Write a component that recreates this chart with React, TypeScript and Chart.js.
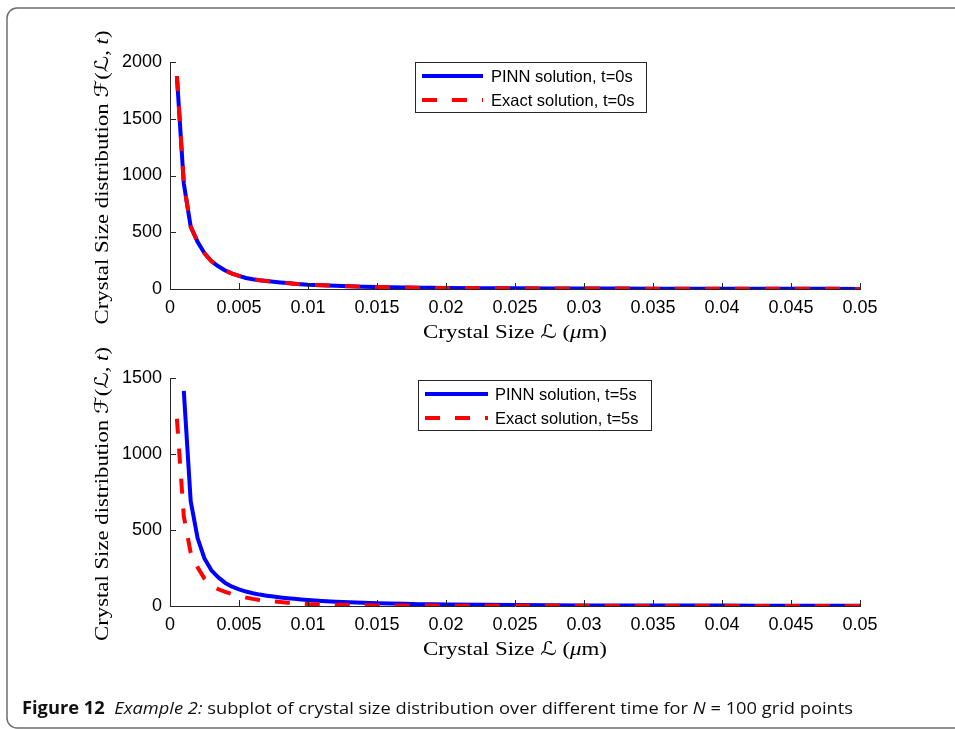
import React, { useEffect, useRef } from 'react';
import { Chart, registerables } from 'chart.js';

Chart.register(...registerables);

// ---------- data ----------
const xTicks = [0, 0.005, 0.01, 0.015, 0.02, 0.025, 0.03, 0.035, 0.04, 0.045, 0.05];
const xTickLabels = ['0', '0.005', '0.01', '0.015', '0.02', '0.025', '0.03', '0.035', '0.04', '0.045', '0.05'];
const yTicksTop = [0, 500, 1000, 1500, 2000];
const yTickLabelsTop = ['0', '500', '1000', '1500', '2000'];
const yTicksBottom = [0, 500, 1000, 1500];
const yTickLabelsBottom = ['0', '500', '1000', '1500'];

// crystal size grid (µm) used by the exact solutions and the t=0 PINN solution
const sizeGrid = [
  0.0005, 0.001, 0.0015, 0.002, 0.0025, 0.003, 0.0035, 0.004, 0.0045, 0.005,
  0.0055, 0.006, 0.0065, 0.007, 0.0075, 0.008, 0.0085, 0.009, 0.0095, 0.01,
  0.011, 0.012, 0.013, 0.014, 0.015, 0.016, 0.017, 0.018, 0.019, 0.02,
  0.0225, 0.025, 0.0275, 0.03, 0.0325, 0.035, 0.0375, 0.04, 0.0425, 0.045, 0.0475, 0.05,
];
// grid of the t=5s PINN solution (starts one step later)
const sizeGridPinnT5 = [
  0.001, 0.0015, 0.002, 0.0025, 0.003, 0.0035, 0.004, 0.0045, 0.005,
  0.0055, 0.006, 0.0065, 0.007, 0.0075, 0.008, 0.0085, 0.009, 0.0095, 0.01,
  0.011, 0.012, 0.013, 0.014, 0.015, 0.016, 0.017, 0.018, 0.019, 0.02,
  0.0225, 0.025, 0.0275, 0.03, 0.0325, 0.035, 0.0375, 0.04, 0.0425, 0.045, 0.0475, 0.05,
];

const pinnT0 = [
  1875, 930, 550, 415, 315, 245, 200, 163, 135, 115,
  97, 86, 77, 70, 64, 58, 52, 47, 42, 38,
  33, 28, 24, 20, 17, 15, 13, 12, 10, 9,
  7, 6, 5, 4, 3.5, 3, 2.5, 2, 2, 1.5, 1.5, 1,
];
const exactT0 = [
  1875, 930, 550, 415, 315, 245, 200, 163, 135, 115,
  97, 86, 77, 70, 64, 58, 52, 47, 42, 38,
  33, 28, 24, 20, 17, 15, 13, 12, 10, 9,
  7, 6, 5, 4, 3.5, 3, 2.5, 2, 2, 1.5, 1.5, 1,
];
const pinnT5 = [
  1415, 690, 447, 312, 235, 188, 152, 127, 109,
  95, 84, 75, 68, 62, 56, 51, 47, 43, 39,
  33, 28, 24, 21, 18, 16, 14, 12, 11, 10,
  8, 6, 5, 4, 3.5, 3, 2.5, 2.5, 2, 2, 2, 2,
];
const exactT5 = [
  1232, 590, 350, 255, 180, 135, 110, 93, 79, 67,
  56, 47, 40, 34, 30, 26, 22, 19, 16, 13,
  10, 8, 7, 5, 4, 3.5, 3, 3, 2.5, 2,
  1.5, 1, 1, 1, 0.5, 0.5, 0.5, 0.5, 0.3, 0.3, 0.3, 0.3,
];

const legendTop = ['PINN solution, t=0s', 'Exact solution, t=0s'];
const legendBottom = ['PINN solution, t=5s', 'Exact solution, t=5s'];

// ---------- helpers ----------
type Run = { t: string; style?: string; weight?: string; family?: string };

const SERIF = '"Liberation Serif", "DejaVu Serif", serif';
const MATHF = '"DejaVu Serif", "DejaVu Sans", serif';
const SANS = '"Liberation Sans", Arial, sans-serif';

function fontOf(r: Run, size: number, fam: string) {
  return `${r.style || 'normal'} ${r.weight || 'normal'} ${size}px ${r.family || fam}`;
}

function drawRuns(
  ctx: CanvasRenderingContext2D,
  runs: Run[],
  size: number,
  fam: string,
  x: number,
  y: number,
  targetLen: number,
  opts: { rotate?: boolean; align?: 'center' | 'left'; baseline?: CanvasTextBaseline; color?: string }
) {
  ctx.save();
  ctx.translate(x, y);
  if (opts.rotate) ctx.rotate(-Math.PI / 2);
  const widths = runs.map((r) => {
    ctx.font = fontOf(r, size, fam);
    return ctx.measureText(r.t).width;
  });
  const total = widths.reduce((a, b) => a + b, 0);
  const s = targetLen / total;
  ctx.scale(s, 1);
  ctx.fillStyle = opts.color || '#000';
  ctx.textBaseline = opts.baseline || 'middle';
  ctx.textAlign = 'left';
  let cx = opts.align === 'left' ? 0 : -total / 2;
  runs.forEach((r, i) => {
    ctx.font = fontOf(r, size, fam);
    ctx.fillText(r.t, cx, 0);
    cx += widths[i];
  });
  ctx.restore();
}

const yTitleRuns: Run[] = [
  { t: 'Crystal Size distribution ' },
  { t: 'ℱ', family: MATHF },
  { t: '(' },
  { t: 'ℒ', family: MATHF },
  { t: ', ' },
  { t: 't', style: 'italic' },
  { t: ')' },
];
const xTitleRuns: Run[] = [
  { t: 'Crystal Size ' },
  { t: 'ℒ', family: MATHF },
  { t: ' (' },
  { t: 'μ', style: 'italic' },
  { t: 'm)' },
];

interface PanelCfg {
  sizesPinn: number[];
  pinn: number[];
  sizesExact: number[];
  exact: number[];
  yMax: number;
  yTicks: number[];
  yTickLabels: string[];
  legend: string[];
  padTop: number;
  xAxisH: number;
  xTitleY: number;
  legendBox: { x: number; y: number; w: number; h: number; lineX0: number; lineX1: number; textX: number };
}

function makeConfig(p: PanelCfg): any {
  const decor = {
    id: 'decor',
    afterDraw(chart: any) {
      const ctx: CanvasRenderingContext2D = chart.ctx;
      const area = chart.chartArea;
      const xs = chart.scales.x;
      const ys = chart.scales.y;
      // inward ticks
      ctx.save();
      ctx.strokeStyle = '#262626';
      ctx.lineWidth = 1;
      ctx.beginPath();
      xTicks.forEach((v) => {
        const px = Math.round(xs.getPixelForValue(v)) + 0.5;
        ctx.moveTo(px, area.bottom);
        ctx.lineTo(px, area.bottom - 6);
      });
      p.yTicks.forEach((v) => {
        const py = Math.round(ys.getPixelForValue(v)) + 0.5;
        ctx.moveTo(area.left, py);
        ctx.lineTo(area.left + 6, py);
      });
      ctx.stroke();
      ctx.restore();

      // axis titles
      drawRuns(ctx, yTitleRuns, 19, SERIF, 103, (area.top + area.bottom) / 2 + 2, 294, { rotate: true });
      drawRuns(ctx, xTitleRuns, 19, SERIF, (area.left + area.right) / 2, p.xTitleY, 184, {});

      // legend
      const b = p.legendBox;
      ctx.save();
      ctx.fillStyle = '#fff';
      ctx.fillRect(b.x, b.y, b.w, b.h);
      ctx.strokeStyle = '#262626';
      ctx.lineWidth = 1;
      ctx.strokeRect(b.x + 0.5, b.y + 0.5, b.w, b.h);
      const rows = [b.y + 14, b.y + 38];
      ctx.lineWidth = 4;
      ctx.strokeStyle = '#0000ff';
      ctx.setLineDash([]);
      ctx.beginPath();
      ctx.moveTo(b.lineX0, rows[0]);
      ctx.lineTo(b.lineX1, rows[0]);
      ctx.stroke();
      ctx.strokeStyle = '#ff0000';
      ctx.setLineDash([15, 15]);
      ctx.beginPath();
      ctx.moveTo(b.lineX0, rows[1]);
      ctx.lineTo(b.lineX1, rows[1]);
      ctx.stroke();
      ctx.setLineDash([]);
      ctx.fillStyle = '#000';
      ctx.font = `16.5px ${SANS}`;
      ctx.textBaseline = 'middle';
      ctx.textAlign = 'left';
      ctx.fillText(p.legend[0], b.textX, rows[0] + 1);
      ctx.fillText(p.legend[1], b.textX, rows[1] + 1);
      ctx.restore();
    },
  };

  return {
    type: 'scatter',
    data: {
      datasets: [
        {
          label: p.legend[0],
          data: p.sizesPinn.map((x, i) => ({ x, y: p.pinn[i] })),
          showLine: true,
          borderColor: '#0000ff',
          backgroundColor: '#0000ff',
          borderWidth: 4,
          pointRadius: 0,
          pointHoverRadius: 0,
          tension: 0,
          borderJoinStyle: 'round',
          order: 2,
        },
        {
          label: p.legend[1],
          data: p.sizesExact.map((x, i) => ({ x, y: p.exact[i] })),
          showLine: true,
          borderColor: '#ff0000',
          backgroundColor: '#ff0000',
          borderWidth: 4,
          borderDash: [15, 15],
          pointRadius: 0,
          pointHoverRadius: 0,
          tension: 0,
          order: 1,
        },
      ],
    },
    options: {
      animation: false,
      responsive: false,
      devicePixelRatio: 1,
      events: [],
      layout: { padding: { top: p.padTop, right: 95, left: 0, bottom: 0 } },
      plugins: { legend: { display: false }, tooltip: { enabled: false }, title: { display: false } },
      scales: {
        x: {
          type: 'linear',
          min: 0,
          max: 0.05,
          afterBuildTicks: (s: any) => {
            s.ticks = xTicks.map((v) => ({ value: v }));
          },
          afterFit: (s: any) => {
            s.height = p.xAxisH;
          },
          grid: { display: false, drawTicks: false },
          border: { display: true, color: '#262626', width: 1 },
          ticks: {
            autoSkip: false,
            maxRotation: 0,
            padding: 8,
            color: '#000',
            font: { family: SANS, size: 18 },
            callback: (_v: any, i: number) => xTickLabels[i],
          },
        },
        y: {
          type: 'linear',
          min: 0,
          max: p.yMax,
          afterBuildTicks: (s: any) => {
            s.ticks = p.yTicks.map((v) => ({ value: v }));
          },
          afterFit: (s: any) => {
            s.width = 170;
          },
          grid: { display: false, drawTicks: false },
          border: { display: true, color: '#262626', width: 1 },
          ticks: {
            autoSkip: false,
            padding: 8,
            color: '#000',
            font: { family: SANS, size: 18 },
            callback: (_v: any, i: number) => p.yTickLabels[i],
          },
        },
      },
    },
    plugins: [decor],
  };
}

function drawFrame(canvas: HTMLCanvasElement) {
  const ctx = canvas.getContext('2d')!;
  ctx.clearRect(0, 0, canvas.width, canvas.height);
  ctx.fillStyle = '#fff';
  ctx.fillRect(0, 0, canvas.width, canvas.height);
  // rounded frame
  const x = 7, y = 8, w = 1000, h = 720, r = 10;
  ctx.strokeStyle = '#6e6e6e';
  ctx.lineWidth = 1.5;
  ctx.beginPath();
  ctx.moveTo(x + r, y);
  ctx.lineTo(x + w - r, y);
  ctx.arcTo(x + w, y, x + w, y + r, r);
  ctx.lineTo(x + w, y + h - r);
  ctx.arcTo(x + w, y + h, x + w - r, y + h, r);
  ctx.lineTo(x + r, y + h);
  ctx.arcTo(x, y + h, x, y + h - r, r);
  ctx.lineTo(x, y + r);
  ctx.arcTo(x, y, x + r, y, r);
  ctx.closePath();
  ctx.stroke();

  // caption
  const CAP = '"Open Sans", "Noto Sans", sans-serif';
  const runs: Run[] = [
    { t: 'Figure 12', weight: 'bold' },
    { t: '  ' },
    { t: 'Example 2:', style: 'italic' },
    { t: ' subplot of crystal size distribution over different time for ' },
    { t: 'N', style: 'italic' },
    { t: ' = 100 grid points' },
  ];
  drawRuns(ctx, runs, 17, CAP, 22, 714, 831, { align: 'left', baseline: 'alphabetic', color: '#111' });
}

export default function App() {
  const frameRef = useRef<HTMLCanvasElement>(null);
  const topRef = useRef<HTMLCanvasElement>(null);
  const botRef = useRef<HTMLCanvasElement>(null);

  useEffect(() => {
    if (frameRef.current) drawFrame(frameRef.current);
    const top = new Chart(
      topRef.current!,
      makeConfig({
        sizesPinn: sizeGrid,
        pinn: pinnT0,
        sizesExact: sizeGrid,
        exact: exactT0,
        yMax: 2000,
        yTicks: yTicksTop,
        yTickLabels: yTickLabelsTop,
        legend: legendTop,
        padTop: 62,
        xAxisH: 61,
        xTitleY: 333,
        legendBox: { x: 415, y: 62, w: 231, h: 50, lineX0: 422, lineX1: 483, textX: 491 },
      })
    );
    const bottom = new Chart(
      botRef.current!,
      makeConfig({
        sizesPinn: sizeGridPinnT5,
        pinn: pinnT5,
        sizesExact: sizeGrid,
        exact: exactT5,
        yMax: 1500,
        yTicks: yTicksBottom,
        yTickLabels: yTickLabelsBottom,
        legend: legendBottom,
        padTop: 48,
        xAxisH: 74,
        xTitleY: 320,
        legendBox: { x: 418, y: 50, w: 233, h: 50, lineX0: 425, lineX1: 488, textX: 495 },
      })
    );
    return () => {
      top.destroy();
      bottom.destroy();
    };
  }, []);

  return (
    <div style={{ position: 'fixed', left: 0, top: 0, width: 955, height: 729, background: '#fff', overflow: 'hidden' }}>
      <canvas ref={frameRef} width={955} height={729} style={{ position: 'absolute', left: 0, top: 0, width: 955, height: 729 }} />
      <canvas ref={topRef} width={955} height={350} style={{ position: 'absolute', left: 0, top: 0, width: 955, height: 350 }} />
      <canvas ref={botRef} width={955} height={350} style={{ position: 'absolute', left: 0, top: 330, width: 955, height: 350 }} />
    </div>
  );
}
